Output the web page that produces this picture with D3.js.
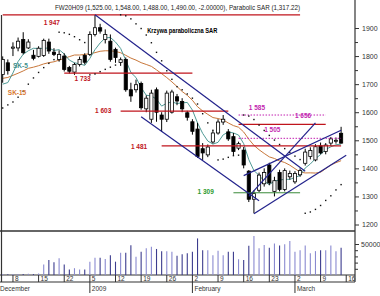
<!DOCTYPE html>
<html>
<head>
<meta charset="utf-8">
<script src="https://cdn.jsdelivr.net/npm/d3@7"></script>
<style>
  body { margin: 0; background: #fff; }
  svg { display: block; }
  text { font-family: "Liberation Sans", Arial, sans-serif; }
</style>
</head>
<body>
<div class="chart"></div>
<script>
// trading calendar (WSE holidays skipped)
const holidays = ['2008-11-11', '2008-12-24', '2008-12-25', '2008-12-26', '2008-12-31', '2009-01-01'];

// closes before the first visible session, only used to warm up SK-15 / SK-5
const warmClose = [1700, 1720, 1740, 1690, 1710, 1730, 1750, 1760, 1750, 1760, 1720, 1660, 1650, 1682];

// FW20H09 daily, 2008-12-04 .. 2009-03-13
const open = [1734, 1776, 1828, 1829, 1859, 1829, 1803, 1799, 1802, 1850, 1814, 1788, 1800, 1759, 1743, 1770, 1802,
  1806, 1877, 1901, 1859, 1853, 1824, 1777, 1788, 1680, 1680, 1702, 1612, 1575, 1680, 1590, 1575, 1600, 1655, 1638,
  1598, 1566, 1540, 1470, 1448, 1494, 1526, 1565, 1530, 1513, 1472, 1465, 1390, 1290, 1322, 1345, 1412, 1318, 1385,
  1325, 1370, 1352, 1377, 1418, 1442, 1430, 1480, 1460, 1490, 1497, 1525];
const high = [1799, 1788, 1849, 1866, 1885, 1860, 1822, 1835, 1862, 1862, 1828, 1820, 1810, 1765, 1776, 1798, 1810,
  1888, 1947, 1915, 1895, 1877, 1830, 1795, 1795, 1705, 1716, 1709, 1660, 1680, 1688, 1600, 1677, 1680, 1665, 1650,
  1605, 1575, 1562, 1490, 1485, 1535, 1575, 1590, 1540, 1526, 1495, 1476, 1394, 1322, 1385, 1400, 1420, 1370, 1395,
  1400, 1392, 1390, 1400, 1470, 1475, 1486, 1492, 1490, 1512, 1510, 1548];
const low = [1705, 1734, 1800, 1817, 1806, 1825, 1785, 1795, 1797, 1808, 1800, 1780, 1745, 1738, 1733, 1763, 1770,
  1800, 1870, 1880, 1845, 1780, 1776, 1765, 1673, 1637, 1670, 1609, 1600, 1562, 1566, 1530, 1565, 1595, 1625, 1600,
  1570, 1520, 1437, 1430, 1440, 1488, 1520, 1555, 1498, 1447, 1465, 1400, 1280, 1240, 1315, 1335, 1340, 1300, 1318,
  1318, 1360, 1345, 1370, 1410, 1432, 1425, 1450, 1450, 1480, 1488, 1488];
const close = [1788, 1748, 1832, 1853, 1812, 1850, 1792, 1828, 1856, 1818, 1806, 1806, 1752, 1746, 1770, 1788, 1778,
  1877, 1901, 1889, 1877, 1788, 1795, 1787, 1680, 1658, 1698, 1616, 1650, 1668, 1600, 1575, 1668, 1672, 1640, 1612,
  1582, 1532, 1442, 1455, 1476, 1526, 1565, 1575, 1505, 1460, 1488, 1412, 1290, 1310, 1376, 1385, 1348, 1356, 1325,
  1392, 1382, 1382, 1392, 1458, 1464, 1477, 1455, 1483, 1505, 1500, 1490];
const volume = [1500, 1200, 1800, 1500, 1600, 2000, 1500, 2500, 17000, 24000, 20500, 27000, 17000, 9000, 11000, 9000,
  9000, 21500, 28000, 28000, 26000, 32000, 21500, 36000, 36000, 48000, 29500, 37500, 43000, 45500, 42000, 38500, 38500,
  37500, 31000, 33500, 35000, 37500, 59000, 40000, 40000, 32000, 39000, 32000, 37500, 37500, 25500, 24000, 47000, 63000,
  43000, 48500, 44000, 51000, 47500, 49500, 55000, 37500, 40000, 47500, 35000, 38500, 40000, 40000, 47500, 38500, 44000];

// parabolic SAR state on the first visible session
const sarStart = { sar: 1615, ep: 1799, af: 0.06, up: true };

const priceTicks = [1200, 1300, 1400, 1500, 1600, 1700, 1800, 1900];
const priceMinor = [1250, 1350, 1450, 1550, 1650, 1750, 1850];
const volTicks = [50000];
const volMinor = [10000, 20000, 30000, 40000];
const weekTicks = ['2008-12-08', '2008-12-15', '2008-12-22', '2009-01-05', '2009-01-12', '2009-01-19', '2009-01-26',
  '2009-02-02', '2009-02-09', '2009-02-16', '2009-02-23', '2009-03-02', '2009-03-09', '2009-03-16'];
const monthTicks = [['December', '2008-12-01'], ['2009', '2009-01-05'], ['February', '2009-02-02'], ['March', '2009-03-02']];

// drawn annotations: [from, to, value]
const redLevels = [['2008-12-04', '2009-03-03', 1947], ['2008-12-22', '2009-02-02', 1739], ['2009-01-13', '2009-02-11', 1604],
  ['2009-01-23', '2009-03-13', 1480], ['2009-02-13', '2009-03-10', 1557]];
const greenLevels = [['2009-02-12', '2009-03-03', 1313]];
const dottedLevels = [['2009-02-13', '2009-03-10', 1590], ['2009-02-13', '2009-03-13', 1507]];
// trend lines: [date1, value1, date2, value2]
const trendLines = [['2009-01-06', 1947, '2009-03-04', 1390], ['2009-01-19', 1584, '2009-02-19', 1285],
  ['2009-02-18', 1238, '2009-03-16', 1447], ['2009-02-16', 1374, '2009-03-13', 1536],
  ['2009-02-17', 1300, '2009-03-06', 1562]];
// labels: [text, date, value, colour]
const labels = [['1 947', '2008-12-16', 1918, '#c0141c'], ['1 733', '2008-12-29', 1718, '#c0141c'],
  ['1 603', '2009-01-06', 1603, '#c0141c'], ['1 481', '2009-01-15', 1474, '#c0141c'],
  ['1 309', '2009-02-03', 1314, '#2e9a2e'], ['1 585', '2009-02-17', 1615, '#c21fb0'],
  ['1 656', '2009-03-02', 1587, '#c21fb0'], ['1 505', '2009-02-20', 1535, '#c21fb0'],
  ['SK-5', '2008-12-08', 1765, '#3f8f8c'], ['SK-15', '2008-12-05', 1668, '#d9772e']];

const fmt = d3.timeFormat('%Y-%m-%d');
const days = d3.timeDay.range(new Date(2008, 10, 14), new Date(2009, 2, 18))
  .filter(d => d.getDay() % 6 !== 0 && !holidays.includes(fmt(d)))
  .map(fmt);

const x = d3.scaleLinear().domain([0, close.length - 1]).range([2.7, 341.1]);
const y = d3.scaleLinear().domain([1200, 1900]).range([224.5, 28]);
const yVol = d3.scaleLinear().domain([0, 50000]).range([275, 244]);
const idx = d => days.indexOf(d) - warmClose.length;
const xd = d => x(idx(d));

// indicators
const allClose = warmClose.concat(close);
const sma = n => close.map((c, i) => d3.mean(allClose.slice(i + warmClose.length - n + 1, i + warmClose.length + 1)));
const sk5 = sma(5), sk15 = sma(15);

const sar = [];
let { sar: s, ep, af, up } = sarStart;
close.forEach((c, i) => {
  if (i > 0) {
    s = s + af * (ep - s);
    if (up) {
      s = Math.min(s, low[i - 1], i > 1 ? low[i - 2] : low[i - 1]);
      if (low[i] < s) { up = false; s = ep; ep = low[i]; af = 0.02; }
      else if (high[i] > ep) { ep = high[i]; af = Math.min(af + 0.02, 0.2); }
    } else {
      s = Math.max(s, high[i - 1], i > 1 ? high[i - 2] : high[i - 1]);
      if (high[i] > s) { up = true; s = ep; ep = high[i]; af = 0.02; }
      else if (low[i] < ep) { ep = low[i]; af = Math.min(af + 0.02, 0.2); }
    }
  }
  sar.push(s);
});

const svg = d3.select('.chart').append('svg').attr('width', 380).attr('height', 296);

svg.append('clipPath').attr('id', 'mainClip').append('rect')
  .attr('x', 2).attr('y', 14).attr('width', 353).attr('height', 217);

// title
svg.append('text').attr('x', 55).attr('y', 10).attr('font-size', 8).attr('fill', '#222')
  .attr('textLength', 245).attr('lengthAdjust', 'spacingAndGlyphs')
  .text('FW20H09 (1,525.00, 1,548.00, 1,488.00, 1,490.00, -2.00000), Parabolic SAR (1,317.22)');

// frame
const frame = svg.append('g').attr('stroke', '#333').attr('fill', 'none');
frame.append('line').attr('x1', 1.5).attr('x2', 1.5).attr('y1', 15).attr('y2', 282).attr('stroke-width', 1.2);
frame.append('line').attr('x1', 355).attr('x2', 355).attr('y1', 0).attr('y2', 282).attr('stroke-width', 1.2);
frame.append('line').attr('x1', 0).attr('x2', 355).attr('y1', 231).attr('y2', 231).attr('stroke-width', 1.5);
frame.append('line').attr('x1', 0).attr('x2', 355).attr('y1', 275).attr('y2', 275).attr('stroke-width', 1.2);
frame.append('line').attr('x1', 0).attr('x2', 355).attr('y1', 282).attr('y2', 282).attr('stroke-width', 1.2);

const main = svg.append('g').attr('clip-path', 'url(#mainClip)');

// moving averages
const line = d3.line().x((d, i) => x(i)).y(d => y(d));
main.append('path').attr('d', line(sk15)).attr('fill', 'none').attr('stroke', '#c8773a').attr('stroke-width', 1);
main.append('path').attr('d', line(sk5)).attr('fill', 'none').attr('stroke', '#4f9a96').attr('stroke-width', 1);

// candles
const bars = close.map((c, i) => ({ i, o: open[i], h: high[i], l: low[i], c }));
main.selectAll('line.wick').data(bars).join('line').attr('class', 'wick')
  .attr('x1', d => x(d.i)).attr('x2', d => x(d.i))
  .attr('y1', d => y(d.h)).attr('y2', d => y(d.l))
  .attr('stroke', '#000').attr('stroke-width', 1);
main.selectAll('rect.body').data(bars).join('rect').attr('class', 'body')
  .attr('x', d => x(d.i) - 1.6).attr('width', 3.2)
  .attr('y', d => y(Math.max(d.o, d.c)))
  .attr('height', d => Math.max(1, Math.abs(y(d.o) - y(d.c))))
  .attr('fill', d => d.c >= d.o ? '#fff' : '#000')
  .attr('stroke', '#000').attr('stroke-width', 0.8);

// level lines
main.selectAll('line.red').data(redLevels).join('line').attr('class', 'red')
  .attr('x1', d => xd(d[0])).attr('x2', d => xd(d[1]))
  .attr('y1', d => y(d[2])).attr('y2', d => y(d[2]))
  .attr('stroke', '#c0141c').attr('stroke-width', 1.3);
main.selectAll('line.green').data(greenLevels).join('line').attr('class', 'green')
  .attr('x1', d => xd(d[0])).attr('x2', d => xd(d[1]))
  .attr('y1', d => y(d[2])).attr('y2', d => y(d[2]))
  .attr('stroke', '#3a8a3a').attr('stroke-width', 1);
main.selectAll('line.dotted').data(dottedLevels).join('line').attr('class', 'dotted')
  .attr('x1', d => xd(d[0])).attr('x2', d => xd(d[1]))
  .attr('y1', d => y(d[2])).attr('y2', d => y(d[2]))
  .attr('stroke', '#c21fb0').attr('stroke-width', 1).attr('stroke-dasharray', '1.5,1.5');
main.selectAll('line.trend').data(trendLines).join('line').attr('class', 'trend')
  .attr('x1', d => xd(d[0])).attr('y1', d => y(d[1]))
  .attr('x2', d => xd(d[2])).attr('y2', d => y(d[3]))
  .attr('stroke', '#23238c').attr('stroke-width', 1.2);

// parabolic SAR
main.selectAll('rect.sar').data(sar).join('rect').attr('class', 'sar')
  .attr('x', (d, i) => x(i) - 0.7).attr('y', d => y(d) - 0.7)
  .attr('width', 1.4).attr('height', 1.4).attr('fill', '#111');

// annotation labels
svg.selectAll('text.lab').data(labels).join('text').attr('class', 'lab')
  .attr('x', d => xd(d[1])).attr('y', d => y(d[2]))
  .attr('dominant-baseline', 'middle')
  .attr('font-size', 6.5).attr('font-weight', 'bold')
  .attr('fill', d => d[3]).text(d => d[0]);
svg.append('text').attr('x', xd('2009-01-20') + 1).attr('y', y(1889))
  .attr('dominant-baseline', 'middle').attr('font-size', 6.5).attr('font-weight', 'bold')
  .attr('textLength', 70).attr('lengthAdjust', 'spacingAndGlyphs')
  .text('Krzywa paraboliczna SAR');

// price axis
const yAxis = svg.append('g').attr('transform', 'translate(355,0)')
  .call(d3.axisRight(y).tickValues(priceTicks).tickSize(4).tickPadding(3).tickFormat(d3.format('d')));
svg.append('g').attr('transform', 'translate(355,0)')
  .call(d3.axisRight(y).tickValues(priceMinor).tickSize(3).tickFormat(''))
  .call(g => g.select('.domain').remove());
yAxis.select('.domain').remove();
yAxis.selectAll('text').attr('font-size', 7).attr('fill', '#333').attr('font-family', '"Liberation Sans", Arial, sans-serif');

// volume
svg.selectAll('line.vol').data(volume).join('line').attr('class', 'vol')
  .attr('x1', (d, i) => x(i)).attr('x2', (d, i) => x(i))
  .attr('y1', yVol(0)).attr('y2', d => yVol(d))
  .attr('stroke', (d, i) => close[i] >= open[i] ? '#8a8ad0' : '#3c3c8e').attr('stroke-width', 1.1);
const vAxis = svg.append('g').attr('transform', 'translate(355,0)')
  .call(d3.axisRight(yVol).tickValues(volTicks).tickSize(4).tickPadding(2).tickFormat(d3.format('d')));
vAxis.select('.domain').remove();
vAxis.selectAll('text').attr('font-size', 7).attr('fill', '#333').attr('font-family', '"Liberation Sans", Arial, sans-serif');
svg.append('g').attr('transform', 'translate(355,0)')
  .call(d3.axisRight(yVol).tickValues(volMinor).tickSize(3).tickFormat(''))
  .call(g => g.select('.domain').remove());
svg.selectAll('.tick line').attr('stroke', '#333');

// date axis
const wk = svg.append('g');
wk.selectAll('line').data(weekTicks).join('line')
  .attr('x1', d => xd(d)).attr('x2', d => xd(d)).attr('y1', 275).attr('y2', 282)
  .attr('stroke', '#333').attr('stroke-width', 1);
wk.selectAll('text').data(weekTicks).join('text')
  .attr('x', d => xd(d) + 2).attr('y', 281)
  .attr('font-size', 6.5).attr('fill', '#333').text(d => +d.slice(8));
const mo = svg.append('g');
mo.selectAll('line').data(monthTicks).join('line')
  .attr('x1', d => xd(d[1])).attr('x2', d => xd(d[1])).attr('y1', 282).attr('y2', 293)
  .attr('stroke', '#333').attr('stroke-width', 1);
mo.selectAll('text').data(monthTicks).join('text')
  .attr('x', d => Math.max(0, xd(d[1]) + 2)).attr('y', 291)
  .attr('font-size', 6.5).attr('fill', '#333').text(d => d[0]);
</script>
</body>
</html>
